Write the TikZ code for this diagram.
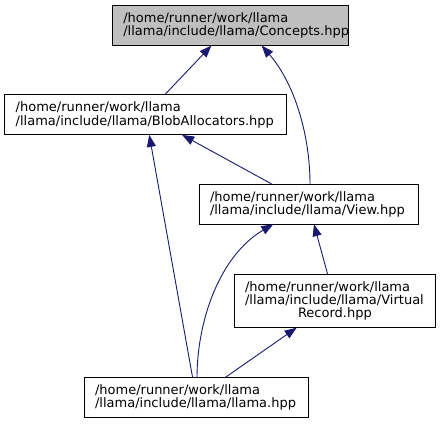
\documentclass[tikz,border=0pt]{standalone}
\usepackage{fontspec}
\setmainfont{DejaVu Sans}
\usetikzlibrary{arrows.meta}
\definecolor{edgeBlue}{RGB}{25, 25, 112}
\hfuzz=\maxdimen
\hbadness=10000

\begin{document}
\begin{tikzpicture}[
      x=1pt, y=-1pt,
      file/.style={rectangle, draw=black, fill=white, line width=0.9pt, outer sep=0pt, inner xsep=11pt, inner ysep=0pt, minimum height=40pt, text width=#1, align=left, font=\fontsize{13}{13.4}\selectfont},
      root/.style={file=#1, fill=black!25},
      arrow/.style={-{Triangle[length=12pt, width=9pt]}, line width=0.9pt, edgeBlue}
    ]
      \useasboundingbox (0,0) rectangle (442,424);
      % header files, placed on the grid of the include graph
      \node[root=214pt] (concepts) at (230.3,25.6) {/home/runner/work/llama\\/llama/include/llama/Concepts.hpp};
      \node[file=260pt] (blob) at (145.7,114.9) {/home/runner/work/llama\\/llama/include/llama/BlobAllocators.hpp};
      \node[file=197pt] (view) at (308.5,204.2) {/home/runner/work/llama\\/llama/include/llama/View.hpp};
      \node[file=179.7pt, minimum height=53.4pt] (record) at (334.9,301) {/home/runner/work/llama\\/llama/include/llama/Virtual\\\makebox[179.7pt][c]{Record.hpp}};
      \node[file=202.3pt] (llama) at (196.2,397.7) {/home/runner/work/llama\\/llama/include/llama/llama.hpp};

      \draw[arrow] (blob) -- (concepts);
      \draw[arrow] (view) -- (blob);
      \draw[arrow] (llama) -- (blob);
      \draw[arrow] (record) -- (view);
      \draw[arrow] (llama) -- (record);
      \draw[arrow] ([xshift=1.5pt]view.north) .. controls +(0,-49) and +(33,38) .. ([xshift=31.4pt]concepts.south);
      \draw[arrow] ([xshift=0.8pt]llama.north) .. controls +(0,-58) and +(-53,31) .. ([xshift=-35.2pt]view.south);
    \end{tikzpicture}
\end{document}
